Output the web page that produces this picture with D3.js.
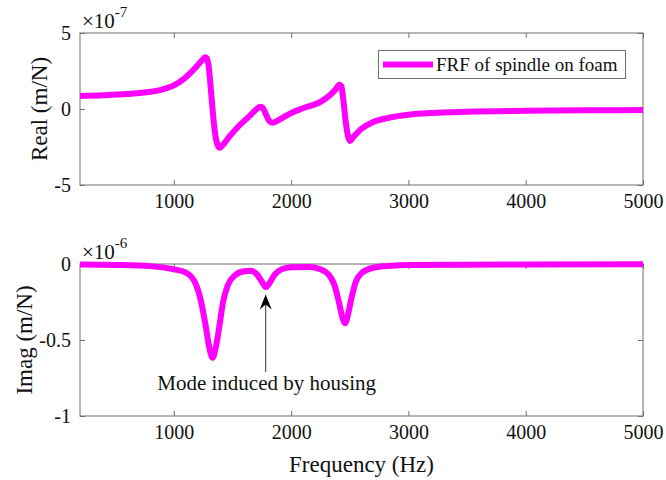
<!DOCTYPE html>
<html>
<head>
<meta charset="utf-8">
<script src="https://cdn.jsdelivr.net/npm/d3@7/dist/d3.min.js"></script>
<style>
  body { margin: 0; background: #fff; }
  text { font-family: "Liberation Serif", "Times New Roman", serif; fill: #111; }
</style>
</head>
<body>
<svg id="chart" width="666" height="480"></svg>
<script>
// Frequency response of the spindle resting on foam: real part (x1e-7 m/N)
const realFreq = [200, 400, 600, 800, 900, 1000, 1080, 1150, 1200, 1240, 1265, 1280, 1295, 1310, 1330,
  1350, 1370, 1392, 1420, 1470, 1550, 1640, 1700, 1735, 1755, 1785, 1815, 1845, 1900, 1990, 2100,
  2250, 2330, 2380, 2412, 2428, 2445, 2465, 2485, 2502, 2530, 2600, 2700, 2820, 3000, 3200, 3500,
  4000, 4500, 5000];
const realVals = [0.85, 0.90, 0.98, 1.13, 1.28, 1.55, 1.95, 2.45, 2.85, 3.2, 3.4, 3.35, 2.9, 1.8, 0.0,
  -1.5, -2.3, -2.55, -2.35, -1.85, -1.15, -0.5, -0.05, 0.15, 0.1, -0.35, -0.8, -0.9, -0.7, -0.3, 0.05,
  0.47, 0.9, 1.3, 1.6, 1.5, 0.6, -0.8, -1.8, -2.1, -1.85, -1.3, -0.85, -0.6, -0.38, -0.26, -0.18,
  -0.12, -0.09, -0.06];

// Imaginary part (x1e-6 m/N)
const imagFreq = [200, 500, 800, 1000, 1100, 1180, 1230, 1270, 1300, 1330, 1360, 1390, 1420, 1460,
  1520, 1600, 1660, 1710, 1750, 1785, 1820, 1860, 1920, 2000, 2150, 2250, 2320, 2370, 2410, 2440,
  2460, 2480, 2510, 2550, 2600, 2700, 2850, 3000, 4000, 5000];
const imagVals = [-0.003, -0.006, -0.014, -0.035, -0.055, -0.12, -0.24, -0.4, -0.54, -0.617, -0.54,
  -0.4, -0.25, -0.14, -0.075, -0.048, -0.045, -0.07, -0.115, -0.152, -0.12, -0.07, -0.035, -0.022,
  -0.02, -0.035, -0.07, -0.14, -0.26, -0.36, -0.39, -0.35, -0.24, -0.12, -0.06, -0.025, -0.012,
  -0.007, -0.003, -0.002];

const freqTicks = [1000, 2000, 3000, 4000, 5000];
const realTicks = [-5, 0, 5];
const realTickLabels = ["-5", "0", "5"];
const imagTicks = [-1, -0.5, 0];
const imagTickLabels = ["-1", "-0.5", "0"];

const seriesName = "FRF of spindle on foam";
const noteText = "Mode induced by housing";
const noteFreq = 1783, noteTip = -0.2, noteTail = -0.71;

const lineColor = "#ff00ff";
const axisColor = "#6e6e6e";

const svg = d3.select("#chart");
const left = 80, right = 643;

const x = d3.scaleLinear().domain([200, 5000]).range([left, right]);

function panel(top, bottom, yDomain, yTicks, yLabels, yTitle, exponent, freqs, vals, titleX) {
  const y = d3.scaleLinear().domain(yDomain).range([bottom, top]);
  const g = svg.append("g");

  // frame
  g.append("rect").attr("x", left).attr("y", top)
    .attr("width", right - left).attr("height", bottom - top)
    .attr("fill", "none").attr("stroke", axisColor).attr("stroke-width", 1);

  const style = sel => {
    sel.select(".domain").remove();
    sel.selectAll(".tick line").attr("stroke", axisColor);
    sel.selectAll(".tick text").attr("font-size", 20).attr("fill", "#111")
      .attr("font-family", "Liberation Serif, Times New Roman, serif");
  };

  g.append("g").attr("transform", `translate(0,${bottom})`)
    .call(d3.axisBottom(x).tickValues(freqTicks).tickSize(-5).tickPadding(9)
      .tickFormat(d3.format("d")))
    .call(style);
  g.append("g").attr("transform", `translate(0,${top})`)
    .call(d3.axisTop(x).tickValues(freqTicks).tickSize(-5).tickFormat(""))
    .call(style);
  g.append("g").attr("transform", `translate(${left},0)`)
    .call(d3.axisLeft(y).tickValues(yTicks).tickSize(-5).tickPadding(9)
      .tickFormat((d, i) => yLabels[i]))
    .call(style);
  g.append("g").attr("transform", `translate(${right},0)`)
    .call(d3.axisRight(y).tickValues(yTicks).tickSize(-5).tickFormat(""))
    .call(style);

  // exponent multiplier
  const m = g.append("text").attr("x", left + 2).attr("y", top - 5).attr("font-size", 21);
  m.append("tspan").text("\u00d710");
  m.append("tspan").attr("font-size", 15).attr("dy", -11).text(exponent);

  // y title
  g.append("text")
    .attr("transform", `translate(${titleX},${(top + bottom) / 2}) rotate(-90)`)
    .attr("text-anchor", "middle").attr("dy", "0.35em")
    .attr("font-size", 23).text(yTitle);

  const line = d3.line().x(d => x(d[0])).y(d => y(d[1])).curve(d3.curveMonotoneX);
  g.append("path").datum(d3.zip(freqs, vals))
    .attr("d", line).attr("fill", "none").attr("stroke", lineColor)
    .attr("stroke-width", 6).attr("stroke-linejoin", "round").attr("stroke-linecap", "butt");
  return y;
}

panel(33, 185, [-5, 5], realTicks, realTickLabels, "Real (m/N)", "-7", realFreq, realVals, 39);
const yI = panel(264, 416, [-1, 0], imagTicks, imagTickLabels, "Imag (m/N)", "-6", imagFreq, imagVals, 24);

// x axis title
svg.append("text").attr("x", (left + right) / 2).attr("y", 472)
  .attr("text-anchor", "middle").attr("font-size", 23).text("Frequency (Hz)");

// legend
const lg = svg.append("g");
lg.append("rect").attr("x", 378.5).attr("y", 50.5).attr("width", 247).attr("height", 28)
  .attr("fill", "#fff").attr("stroke", axisColor).attr("stroke-width", 1);
lg.append("line").attr("x1", 383).attr("x2", 433).attr("y1", 64.5).attr("y2", 64.5)
  .attr("stroke", lineColor).attr("stroke-width", 6);
lg.append("text").attr("x", 436).attr("y", 71).attr("font-size", 19).text(seriesName);

// annotation arrow
const ax = x(noteFreq), tipY = yI(noteTip), tailY = yI(noteTail);
svg.append("line").attr("x1", ax).attr("x2", ax).attr("y1", tailY).attr("y2", tipY + 8)
  .attr("stroke", "#333").attr("stroke-width", 1);
svg.append("path")
  .attr("d", `M${ax},${tipY} L${ax + 6},${tipY + 15} L${ax},${tipY + 10} L${ax - 6},${tipY + 15} Z`)
  .attr("fill", "#000");
svg.append("text").attr("x", ax + 1).attr("y", yI(noteTail) + 18)
  .attr("text-anchor", "middle").attr("font-size", 21).text(noteText);
</script>
</body>
</html>
